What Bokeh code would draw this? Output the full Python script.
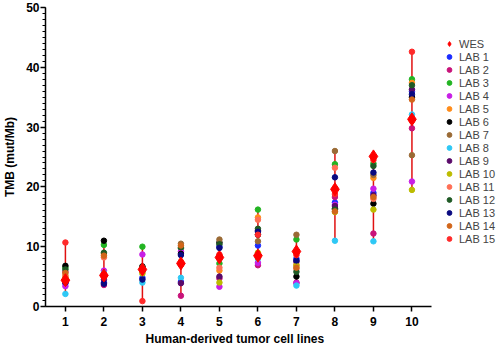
from bokeh.plotting import figure
from bokeh.models import Legend, LegendItem, Range1d, FixedTicker, Title
from bokeh.embed import file_html
from bokeh.resources import INLINE

cell_lines = [1, 2, 3, 4, 5, 6, 7, 8, 9, 10]
wes = [4.4, 5.2, 6.2, 7.2, 8.2, 8.5, 9.2, 19.6, 25.1, 31.3]

lab_names = ["LAB 1", "LAB 2", "LAB 3", "LAB 4", "LAB 5", "LAB 6", "LAB 7", "LAB 8",
             "LAB 9", "LAB 10", "LAB 11", "LAB 12", "LAB 13", "LAB 14", "LAB 15"]
lab_colors = ["#1a2cff", "#c8137a", "#22b422", "#c81ee6", "#ff8c1a", "#000000", "#9a6a35",
              "#2ec8f5", "#5a0a6a", "#bcbc00", "#ff6f55", "#1f5a25", "#0a0a80", "#d2661a", "#ff2a2a"]

lab1 = [3.9, 4.0, 4.8, 4.1, 10.0, 10.2, 8.0, 17.4, 19.0, 36.0]
lab2 = [5.8, 3.6, 6.5, 1.8, 4.7, 6.9, 4.0, 18.3, 12.2, 29.8]
lab3 = [6.5, 10.3, 10.0, 9.7, 7.2, 16.2, 11.2, 23.8, 23.9, 38.0]
lab4 = [3.4, 6.0, 8.7, 9.2, 3.3, 7.3, 3.9, 17.0, 19.7, 20.9]
lab5 = [5.0, 8.8, 6.0, 7.5, 6.0, 14.9, 7.0, 19.8, 21.5, 37.4]
lab6 = [6.8, 11.0, 6.7, 8.8, 10.7, 12.0, 5.0, 16.4, 17.2, 35.0]
lab7 = [4.6, 5.0, 5.8, 10.5, 11.2, 10.9, 12.0, 26.0, 22.0, 25.3]
lab8 = [2.1, 5.6, 4.0, 4.8, 8.0, 8.0, 3.5, 11.0, 10.9, 32.1]
lab9 = [4.2, 4.5, 6.3, 3.9, 5.0, 12.7, 7.5, 16.8, 18.6, 36.3]
lab10 = [4.8, 5.3, 5.5, 7.0, 4.0, 9.0, 6.8, 15.8, 16.2, 19.5]
lab11 = [5.2, 8.2, 6.4, 7.3, 6.5, 14.5, 6.3, 23.2, 18.0, 31.0]
lab12 = [6.2, 9.0, 6.6, 9.9, 10.4, 13.0, 5.8, 16.2, 23.5, 37.0]
lab13 = [4.0, 3.8, 4.5, 8.6, 9.8, 12.5, 7.7, 21.6, 22.4, 35.5]
lab14 = [5.6, 8.5, 6.1, 10.2, 8.5, 8.2, 6.5, 15.9, 18.3, 34.6]
lab15 = [10.7, 5.4, 0.9, 7.0, 8.7, 12.0, 8.6, 18.8, 24.5, 42.6]

labs = [lab1, lab2, lab3, lab4, lab5, lab6, lab7, lab8, lab9, lab10, lab11, lab12, lab13, lab14, lab15]

y_ticks = [0, 10, 20, 30, 40, 50]
x_label = "Human-derived tumor cell lines"
y_label = "TMB (mut/Mb)"

FONT = "Liberation Sans"

# frame spans to the right edge so that the legend (inside the frame) is not clipped;
# the x axis line is limited with bounds.
p = figure(width=500, height=347, output_backend="svg", toolbar_location=None,
           x_range=Range1d(0.483, 12.30), y_range=Range1d(0, 50),
           min_border_left=43, min_border_right=0, min_border_top=7, min_border_bottom=41)
p.outline_line_color = None
p.grid.visible = False
p.background_fill_color = "white"
p.border_fill_color = "white"

# range lines
lo = [min(v) for v in zip(wes, *labs)]
hi = [max(v) for v in zip(wes, *labs)]
p.segment(x0=cell_lines, y0=lo, x1=cell_lines, y1=hi, line_color="#e01010", line_width=1.5)

items = []
renderers = []
for name, col, vals in zip(lab_names, lab_colors, labs):
    r = p.scatter(x=cell_lines, y=vals, size=5.5, marker="circle", fill_color=col, line_color=col)
    renderers.append((name, r))

rw = p.scatter(x=cell_lines, y=wes, size=13, marker="diamond", fill_color="#ff0000", line_color="#ff0000")
items.append(LegendItem(label="WES", renderers=[rw]))
for name, r in renderers:
    items.append(LegendItem(label=name, renderers=[r]))

legend = Legend(items=items, location=(398, 61))
legend.label_text_font = FONT
legend.label_text_font_size = "11px"
legend.label_height = 13
legend.glyph_height = 13
legend.glyph_width = 12
legend.spacing = 0
legend.padding = 0
legend.margin = 0
legend.label_standoff = 4
legend.border_line_color = None
legend.background_fill_alpha = 0
p.add_layout(legend, "center")

for ax in (p.xaxis[0], p.yaxis[0]):
    ax.axis_line_width = 1.5
    ax.axis_line_color = "black"
    ax.major_tick_line_width = 1.5
    ax.major_tick_line_color = "black"
    ax.minor_tick_line_color = "black"
    ax.major_tick_in = 0
    ax.major_tick_out = 5
    ax.minor_tick_in = 0
    ax.minor_tick_out = 3
    ax.major_label_text_font = FONT
    ax.major_label_text_font_style = "bold"
    ax.major_label_text_font_size = "12px"
    ax.major_label_text_color = "black"
    ax.axis_label_text_font = FONT
    ax.axis_label_text_font_style = "bold"
    ax.axis_label_text_font_size = "12px"
    ax.axis_label_text_color = "black"

p.xaxis.ticker = FixedTicker(ticks=cell_lines)
p.xaxis.bounds = (0.483, 10.5)
p.xaxis.minor_tick_line_color = None
p.xaxis.major_label_standoff = 5

p.yaxis.ticker = FixedTicker(ticks=y_ticks, minor_ticks=list(range(0, 51)))
p.yaxis.axis_label = y_label
p.yaxis.major_label_standoff = 1
p.yaxis.axis_label_standoff = 6

xt = Title(text=x_label, align="left", offset=100, text_font=FONT, text_font_size="12px",
           text_font_style="bold", text_color="black", standoff=2)
p.add_layout(xt, "below")

open("out.html", "w").write(file_html(p, INLINE))
